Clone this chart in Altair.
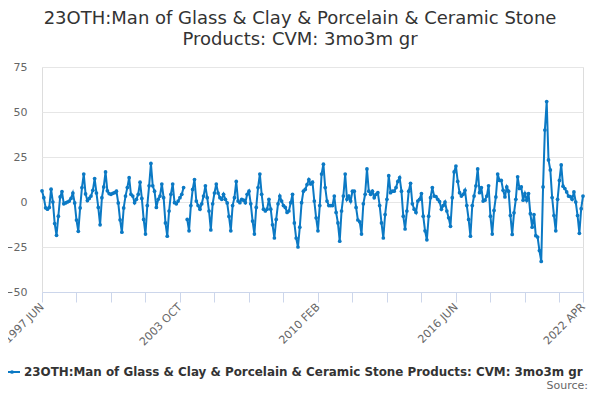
import altair as alt
import pandas as pd

start_year, start_month = 1997, 6

values = [
    # 1997 JUN ..
    6.2, 2.4, -3.2, -4, -3, 7.1, 0, -12, -18.5, -7.9,
    2.8, 5.8, -1, -0.5, 0, 0.5, 2, 5, -0.5, -10,
    -16.3, -3.3, 8, 15.5, 4.5, 0.8, 2, 3.3, 6.5, 13,
    5, -3, -12.7, 2.4, 8.4, 16.7, 6.2, 4.7, 4.3, 4.8,
    5.2, 6, -0.5, -9.9, -16.8, -3.3, 3.3, 8, 13.5,
    4.3, 3.3, -0.4, 1.5, 4.3, 11, 2, -9.7, -17.8, -2,
    9, 21.4, 9, 6, -3, 1.5, 3.3, 10, 2.4, -11.6,
    -19, -5, 4.3, 10, -0.4, -1, 0.5, 2.4, 4.3, 8,
    None, -9.7, -16, -2, 7, 12.5, 0.5, -2, -4, -1,
    3.3, 9, 2.4, -5, -15.5, -1, 5, 10, 5, 2.4,
    1.5, 4.3, 1.5, -0.5, -8, -16, -2, 2.4, 11.4, 0.5,
    -0.4, 1.5, 1, -0.4, 4.3, 6, -1, -10.6, -17.8, -3,
    8, 15.5, 4.3, -4, -5, -4, 1.5, -4, -12.7, -20,
    -9.7, -1, 3.3, 0.5, -2, -3, -5.8, -5, -0.4, 4.3,
    -11.6, -20, -25, -14, -0.4, 6, 7, 9.7, 12.5,
    10, 11, 0.5, -8.8, -16, -2, 15.5, 21, 8, 0.5,
    -2, -2, -2, 3.3, -5.8, -11.6, -21.8, -5, 3.3, 15.5,
    1.5, 3.3, 0.5, 6, 6, -3, -10, -11, -17.8, -1,
    4.3, 18.4, 6, 4.3, 6, 2.4, 4.3, 5.2, -2, -11.6,
    -20, -7, 1.5, 14.6, 5.2, 6, 6, 8, 11.4, 13.5,
    6, -7.9, -15, -5, 6, 10.4, -1, -4, -5.8, 0.5,
    1.5, 4.7, -7.9, -16, -21, -7.9, 2.4, 8, 3.3, 3,
    1.5, 0.2, -4, -2, 0, -5, -8.8, -13.5, 2.4, 16.7,
    20, 11.4, 5.2, 3.3, 4.3, 6.5, -2, -9.7, -19, -2,
    3.3, 9, 18.4, 5.2, 8, 0.5, 1, 3.3, 9, -7.9,
    -17.8, -4.7, 2.8, 15.5, 12, 12, 6.5, 2.8, 8.4, 6,
    -7.5, -18, -6, 1.5, 14, 7.5, 8.4, 1, 4.7, 1,
    4.7, -6.5, -14, -7, -18.7, -19.5, -27, -33, 8.4, 40,
    55.8, 23.4, 17.8, 2.5, -7.5, -16, 1.5, 12, 20.6, 8.8,
    7.5, 5.6, 3.3, 3, 1.5, 5.6, 0, -7.5, -17.4, -3.7,
    3.3,
]

month_names = ["JAN", "FEB", "MAR", "APR", "MAY", "JUN",
               "JUL", "AUG", "SEP", "OCT", "NOV", "DEC"]

labels = []
for k in range(len(values)):
    m = start_month - 1 + k
    labels.append(f"{start_year + m // 12} {month_names[m % 12]}")

df = pd.DataFrame({"i": list(range(len(values))), "value": values, "label": labels})

n = len(values)
tick_values = list(range(0, n, 19)) + [n - 1]
label_positions = [0, 76, 152, 228, n - 1]

expr = "''"
for p in reversed(label_positions):
    expr = f"datum.value == {p} ? '{labels[p]}' : ({expr})"

title_lines = ["23OTH:Man of Glass & Clay & Porcelain & Ceramic Stone",
               "Products: CVM: 3mo3m gr"]
series_name = "23OTH:Man of Glass & Clay & Porcelain & Ceramic Stone Products: CVM: 3mo3m gr"
source_text = "Source:"

COLOR = "#0b79c4"
FONT = "DejaVu Sans"

base = alt.Chart(df)

line = base.mark_line(
    color=COLOR, strokeWidth=2, invalid="break-paths-show-domains",
    point=alt.OverlayMarkDef(color=COLOR, size=14, filled=True, opacity=1),
).encode(
    x=alt.X("i:Q", scale=alt.Scale(domain=[0, n - 1], nice=False, zero=False),
            axis=alt.Axis(values=tick_values, labelExpr=expr, title=None,
                          grid=False, domainColor="#ccd6eb", tickColor="#ccd6eb",
                          tickSize=10, labelAngle=-45, labelAlign="right",
                          labelBaseline="middle", labelPadding=3,
                          labelColor="#666666", labelFontSize=11, labelFont=FONT,
                          labelOverlap=False, labelFlush=False, labelBound=False)),
    y=alt.Y("value:Q", scale=alt.Scale(domain=[-50, 75], nice=False, zero=False),
            axis=alt.Axis(values=[-50, -25, 0, 25, 50, 75], title=None,
                          domain=False, ticks=False, gridColor="#e6e6e6",
                          labelColor="#666666", labelFontSize=11, labelFont=FONT,
                          labelPadding=15)),
)

one = alt.Chart(pd.DataFrame({"a": [0]}))

title1 = one.mark_text(font=FONT, fontSize=18, color="#333333", align="center",
                       baseline="alphabetic").encode(
    x=alt.value(258), y=alt.value(-43), text=alt.value(title_lines[0]))
title2 = one.mark_text(font=FONT, fontSize=18, color="#333333", align="center",
                       baseline="alphabetic").encode(
    x=alt.value(258), y=alt.value(-22), text=alt.value(title_lines[1]))

leg_rule = one.mark_rule(color=COLOR, strokeWidth=2).encode(
    x=alt.value(-38), x2=alt.value(-22), y=alt.value(305))
leg_pt = one.mark_point(color=COLOR, filled=True, size=14, opacity=1).encode(
    x=alt.value(-30), y=alt.value(305))
leg_text = one.mark_text(font=FONT, fontSize=11.9, fontWeight="bold", color="#333333",
                         align="left", baseline="middle").encode(
    x=alt.value(-18), y=alt.value(305), text=alt.value(series_name))
src = one.mark_text(font=FONT, fontSize=11, color="#666666", align="right",
                    baseline="middle").encode(
    x=alt.value(546), y=alt.value(318.5), text=alt.value(source_text))

chart = alt.layer(line, title1, title2, leg_rule, leg_pt, leg_text, src).properties(
    width=541, height=225,
    autosize=alt.AutoSizeParams(type="none"),
    padding={"left": 34, "top": 59, "right": 9, "bottom": 100},
).configure_view(stroke=None).configure(background="white")

chart.save("out.html", embed_options={"renderer": "svg", "actions": False})
